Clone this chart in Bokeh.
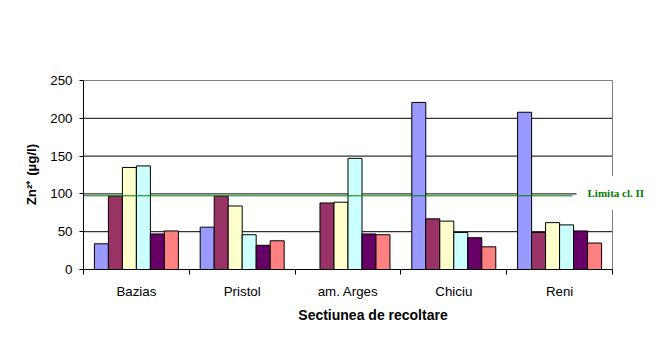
import math
from bokeh.plotting import figure
from bokeh.models import FixedTicker, Range1d, Label, ColumnDataSource
from bokeh.embed import file_html
from bokeh.resources import INLINE

# ---- data ----
categories = ["Bazias", "Pristol", "am. Arges", "Chiciu", "Reni"]
series_1 = [34, 56, float("nan"), 221, 208]
series_2 = [97, 97, 88, 67, 49]
series_3 = [135, 84, 89, 64, 62]
series_4 = [137, 46, 147, 49, 59]
series_5 = [47, 32, 47, 42, 51]
series_6 = [51, 38, 46, 30, 35]
y_ticks = [0, 50, 100, 150, 200, 250]
grid_ticks = [50, 100, 150, 200]
limit_value = 97.5
limit_label = "Limita cl. II"
x_title = "Sectiunea de recoltare"
y_title = "Zn\u00b2\u207a (\u00b5g/l)"

series = [series_1, series_2, series_3, series_4, series_5, series_6]
colors = ["#9999FF", "#993366", "#FFFFCC", "#CCFFFF", "#660066", "#FF8080"]

ncat = len(categories)
px_per_cat = 105.8
x_end = ncat + 50.0 / px_per_cat          # frame extends to right edge of page
y_top = 250 + 1.0 / 0.756

p = figure(width=662, height=348, x_range=Range1d(0, x_end), y_range=Range1d(0, y_top),
           output_backend="svg", toolbar_location=None,
           min_border_left=83, min_border_right=0, min_border_top=79, min_border_bottom=79)
p.background_fill_color = "white"
p.border_fill_color = "white"
p.outline_line_color = None

FONT = "Liberation Sans"

# y axis
p.yaxis.ticker = FixedTicker(ticks=y_ticks)
p.yaxis.bounds = (0, 250)
p.yaxis.major_tick_out = 4
p.yaxis.major_tick_in = 0
p.yaxis.minor_tick_out = 0
p.yaxis.minor_tick_in = 0
p.yaxis.axis_line_color = "black"
p.yaxis.major_tick_line_color = "black"
p.yaxis.major_label_text_font = FONT
p.yaxis.major_label_text_font_size = "13.33px"
p.yaxis.major_label_text_color = "black"
p.yaxis.major_label_standoff = 7
p.yaxis.axis_label = y_title
p.yaxis.axis_label_text_font = FONT
p.yaxis.axis_label_text_font_style = "bold"
p.yaxis.axis_label_text_font_size = "13.33px"
p.yaxis.axis_label_text_color = "black"
p.yaxis.axis_label_standoff = 8

# x axis
centers = [i + 0.5 for i in range(ncat)]
bounds = [float(i) for i in range(ncat + 1)]
p.xaxis.ticker = FixedTicker(ticks=centers, minor_ticks=bounds)
p.xaxis.bounds = (0, ncat)
p.xaxis.major_label_overrides = {c: name for c, name in zip(centers, categories)}
p.xaxis.major_tick_out = 0
p.xaxis.major_tick_in = 0
p.xaxis.minor_tick_out = 5
p.xaxis.minor_tick_in = 0
p.xaxis.minor_tick_line_color = "black"
p.xaxis.axis_line_color = "black"
p.xaxis.major_label_text_font = FONT
p.xaxis.major_label_text_font_size = "13.33px"
p.xaxis.major_label_text_color = "black"
p.xaxis.major_label_standoff = 9
p.xaxis.axis_label = x_title
p.xaxis.axis_label_text_font = FONT
p.xaxis.axis_label_text_font_style = "bold"
p.xaxis.axis_label_text_font_size = "14px"
p.xaxis.axis_label_text_color = "black"
p.xaxis.axis_label_standoff = 5

# grid (drawn manually so it stops at the plot area's right border)
p.xgrid.visible = False
p.ygrid.visible = False
p.segment(x0=[0] * len(grid_ticks), x1=[ncat] * len(grid_ticks), y0=grid_ticks, y1=grid_ticks,
          line_color="black", line_width=1)
# plot-area border (top and right, gray)
p.segment(x0=[0, ncat], x1=[ncat, ncat], y0=[250, 0], y1=[250, 250],
          line_color="#808080", line_width=1)

# bars
bw = 0.1323
off = 0.103
for i, (vals, col) in enumerate(zip(series, colors)):
    xs = [c + off + bw * (i + 0.5) for c in range(ncat)]
    src = ColumnDataSource(dict(x=xs, top=vals))
    p.vbar(x="x", top="top", bottom=0, width=bw, source=src,
           fill_color=col, line_color="black", line_width=1)

# limit line
p.segment(x0=[0], x1=[4.622], y0=[limit_value], y1=[limit_value],
          line_color="#008000", line_width=1)

p.add_layout(Label(x=4.660, y=101.2, text=limit_label, text_align="left",
                   text_baseline="middle", text_font="Liberation Serif",
                   text_font_style="bold", text_font_size="11px",
                   text_color="#008000", background_fill_color="white",
                   padding=11))

open("out.html", "w").write(file_html(p, INLINE))
